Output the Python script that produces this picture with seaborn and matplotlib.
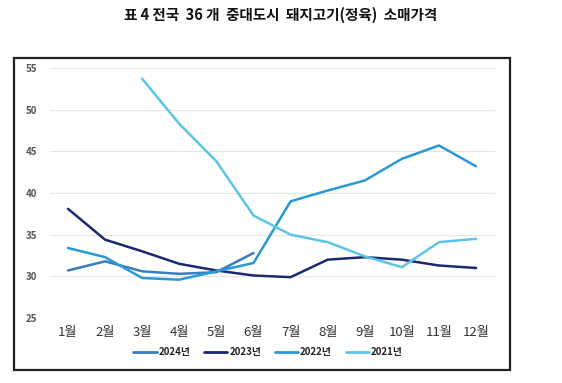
import numpy as np
import pandas as pd
import seaborn as sns
import matplotlib.pyplot as plt
from matplotlib.patches import Rectangle
from matplotlib.lines import Line2D

# Monthly retail price of pork, 36 cities
months = ['1월', '2월', '3월', '4월', '5월', '6월', '7월', '8월', '9월', '10월', '11월', '12월']
nan = np.nan
y2024 = [30.7, 31.8, 30.6, 30.3, 30.5, 32.8, nan, nan, nan, nan, nan, nan]
y2023 = [38.1, 34.4, 33.0, 31.5, 30.7, 30.1, 29.9, 32.0, 32.3, 32.0, 31.3, 31.0]
y2022 = [33.4, 32.3, 29.8, 29.6, 30.6, 31.6, 39.0, 40.3, 41.5, 44.1, 45.7, 43.2]
y2021 = [nan, nan, 53.7, 48.3, 43.8, 37.3, 35.0, 34.1, 32.4, 31.1, 34.1, 34.5]
series_names = ['2024년', '2023년', '2022년', '2021년']
colors = ['#3a7cc0', '#1b2a6e', '#2a98d4', '#5cc5e6']
yticks = [25, 30, 35, 40, 45, 50, 55]

sns.set_theme(style='white')
plt.rcParams['font.family'] = ['Noto Sans CJK KR', 'DejaVu Sans']

df = pd.DataFrame({'month': range(len(months)), '2024년': y2024, '2023년': y2023,
                   '2022년': y2022, '2021년': y2021})
long_df = df.melt(id_vars='month', var_name='year', value_name='price').dropna()

fig = plt.figure(figsize=(5.62, 3.83), dpi=100)
ax = fig.add_axes([50 / 562, 1 - 318 / 383, 445 / 562, 250 / 383])

sns.lineplot(data=long_df, x='month', y='price', hue='year', hue_order=series_names,
             palette=colors, linewidth=1.8, ax=ax, legend=False, sort=True)
for l in ax.lines:
    l.set_clip_on(False)

ax.set_xlim(-0.485, 11.51)
ax.set_ylim(25, 55)
ax.set_yticks(yticks)
ax.set_xticks(range(len(months)))
ax.set_xticklabels(months, fontsize=9.5, color='#333333')
ax.set_yticklabels([str(v) for v in yticks], fontsize=7, fontweight='bold', color='#555555')
ax.tick_params(axis='x', pad=6, length=0)
ax.tick_params(axis='y', pad=9, length=0)
ax.grid(axis='y', color='#e6e6e6', linewidth=0.8)
ax.set_axisbelow(True)
for s in ax.spines.values():
    s.set_visible(False)
ax.set_xlabel('')
ax.set_ylabel('')

handles = [Line2D([0], [0], color=c, linewidth=2) for c in colors]
leg = fig.legend(handles, series_names, loc='center', bbox_to_anchor=(268 / 562, 1 - 352 / 383),
                 ncol=4, frameon=False, handlelength=2.4, columnspacing=1.4, handletextpad=0.2,
                 prop={'size': 7, 'weight': 'bold'})
for t in leg.get_texts():
    t.set_color('#222222')

# outer box around the chart
fig.patches.append(Rectangle((14 / 562, 1 - 370 / 383), 496 / 562, 312 / 383,
                             transform=fig.transFigure, fill=False, edgecolor='#222222',
                             linewidth=1.6))

fig.text(0.5, 1 - 15 / 383, '표 4 전국  36 개  중대도시  돼지고기(정육)  소매가격',
         ha='center', va='center', fontsize=10.5, fontweight='bold', color='#111111')

fig.savefig('out.png', dpi=100)
